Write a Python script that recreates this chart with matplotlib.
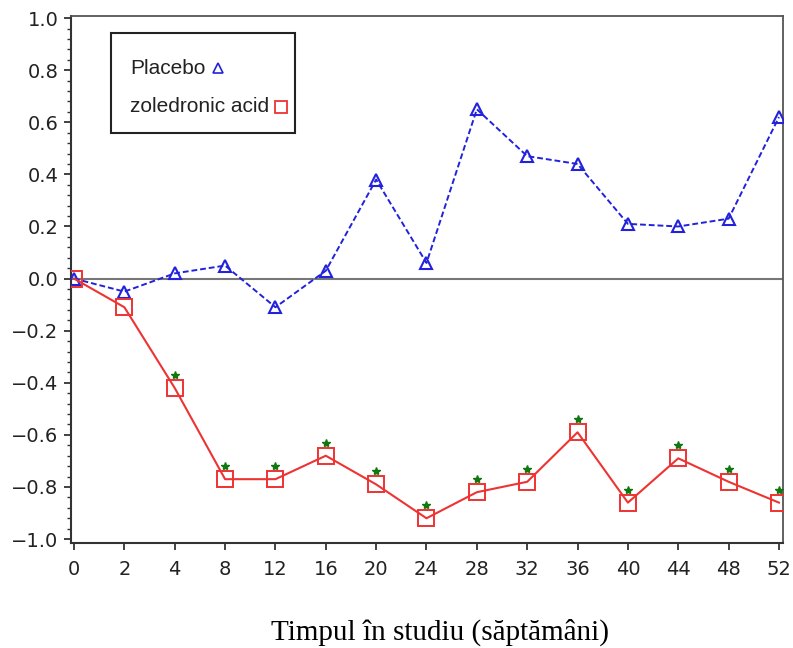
import matplotlib
matplotlib.use("Agg")
import matplotlib.pyplot as plt
from matplotlib.lines import Line2D
from matplotlib.patches import Rectangle
from matplotlib.ticker import MultipleLocator
import numpy as np

weeks = ["0", "2", "4", "8", "12", "16", "20", "24", "28", "32", "36", "40", "44", "48", "52"]
placebo = [0.0, -0.05, 0.02, 0.05, -0.11, 0.03, 0.38, 0.06, 0.65, 0.47, 0.44, 0.21, 0.20, 0.23, 0.62]
zoledronic = [0.0, -0.11, -0.42, -0.77, -0.77, -0.68, -0.79, -0.92, -0.82, -0.78, -0.59, -0.86, -0.69, -0.78, -0.86]
significant = [False, False, True, True, True, True, True, True, True, True, True, True, True, True, True]
yticks = [-1.0, -0.8, -0.6, -0.4, -0.2, 0.0, 0.2, 0.4, 0.6, 0.8, 1.0]

W, H = 793, 648
x = np.arange(len(weeks))

fig = plt.figure(figsize=(W / 100, H / 100), dpi=100)
ax = fig.add_axes([71 / W, 1 - 543 / H, 712 / W, 527 / H])

ax.axhline(0, color="#777777", lw=1.5, zorder=1)

ax.plot(x, placebo, color="#2222dd", ls=(0, (3, 1.5)), lw=1.4,
        marker="^", markersize=9, markerfacecolor="none", markeredgecolor="#2222dd",
        markeredgewidth=1.5, zorder=3)
ax.plot(x, zoledronic, color="#ee3333", ls="-", lw=1.5,
        marker="s", markersize=11, markerfacecolor="none", markeredgecolor="#ee3333",
        markeredgewidth=1.4, zorder=3)

sx = [xi for xi, s in zip(x, significant) if s]
sy = [v + 0.05 for v, s in zip(zoledronic, significant) if s]
ax.plot(sx, sy, ls="none", marker="*", markersize=6, color="#117711", zorder=4)

ax.set_xlim(-0.06, 14.08)
ax.set_ylim(-1.015, 1.008)
ax.set_xticks(x)
ax.set_xticklabels(weeks)
ax.set_yticks(yticks)
ax.set_yticklabels([f"{v:.1f}".replace("-", "\u2212") for v in yticks])
ax.yaxis.set_minor_locator(MultipleLocator(0.04))

ax.tick_params(axis="both", which="major", labelsize=14, length=5, width=1.2,
               colors="#222222", labelcolor="#222222")
ax.tick_params(axis="x", pad=7)
ax.tick_params(axis="y", pad=4)
ax.tick_params(axis="y", which="minor", length=3, width=1.0, color="#333333")
for lab in ax.get_xticklabels() + ax.get_yticklabels():
    lab.set_family("DejaVu Sans")

for side in ["left", "bottom"]:
    ax.spines[side].set_color("#333333")
    ax.spines[side].set_linewidth(1.5)
for side in ["top", "right"]:
    ax.spines[side].set_color("#555555")
    ax.spines[side].set_linewidth(1.3)

# custom legend box
fig.add_artist(Rectangle((111 / W, 1 - 133 / H), 184 / W, 100 / H, transform=fig.transFigure,
                         facecolor="white", edgecolor="#222222", lw=1.5, zorder=5))
t1 = fig.text(130 / W, 1 - 68 / H, "Placebo", ha="left", va="center",
              family="Liberation Sans", size=15, color="#222222", zorder=6)
t2 = fig.text(130 / W, 1 - 107 / H, "zoledronic acid", ha="left", va="center",
              family="Liberation Sans", size=15, color="#222222", zorder=6)
fig.canvas.draw()
r = fig.canvas.get_renderer()
b1 = t1.get_window_extent(r)
b2 = t2.get_window_extent(r)
fig.add_artist(Line2D([(b1.x1 + 13) / W], [1 - 68 / H], transform=fig.transFigure, ls="none",
                      marker="^", markersize=7, markerfacecolor="none",
                      markeredgecolor="#2222dd", markeredgewidth=1.2, zorder=6))
fig.add_artist(Line2D([(b2.x1 + 12) / W], [1 - 107 / H], transform=fig.transFigure, ls="none",
                      marker="s", markersize=9, markerfacecolor="none",
                      markeredgecolor="#ee3333", markeredgewidth=1.3, zorder=6))

fig.text(440 / W, 1 - 632 / H, "Timpul în studiu (săptămâni)",
         ha="center", va="center", family="Liberation Serif", size=21, color="black")

fig.savefig("out.png", dpi=100)
